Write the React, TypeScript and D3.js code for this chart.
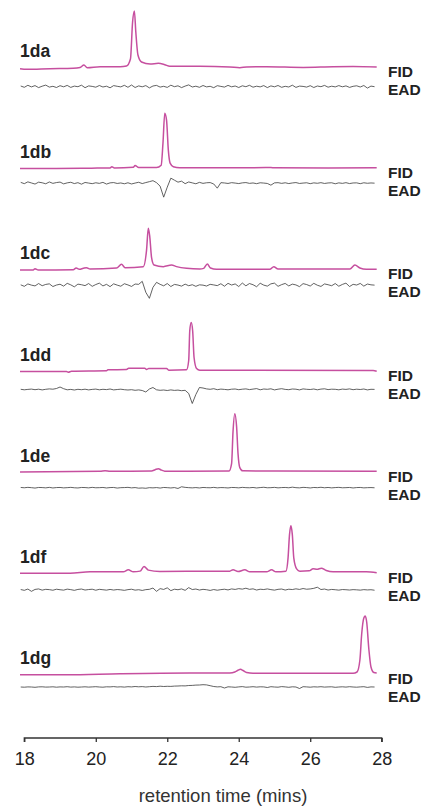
import React, { useEffect, useRef } from 'react';
import * as d3 from 'd3';

// compound names, one panel each
const compounds = ['1da', '1db', '1dc', '1dd', '1de', '1df', '1dg'];

// FID traces: [retention time (min), signal] knots
const fid1da = [[17.88,-1.7],[18.07,-2.3],[18.72,-1.7],[19.37,-1.3],[19.56,-0.5],[19.67,2.0],[19.76,-0.7],[20.12,0.3],[20.68,0.3],[20.86,1.0],[20.97,8],[21.03,45],[21.08,56],[21.12,35],[21.18,12],[21.28,5],[21.52,3],[21.75,3.7],[21.93,2.3],[22.07,0.7],[22.91,0.7],[23.75,0],[24.03,-0.7],[24.22,0],[24.78,0.3],[25.8,-0.4],[26.64,0.3],[27.2,0.5],[27.86,0]];
const fid1db = [[17.88,-0.3],[18.9,-0.3],[19.88,0],[20.4,0.2],[20.45,1.3],[20.52,0.2],[21.05,0.8],[21.1,2.7],[21.2,0.7],[21.7,0.7],[21.83,3],[21.88,25],[21.93,55],[21.98,48],[22.03,18],[22.08,5],[22.17,1.5],[22.35,0.5],[23.5,0.3],[24.9,0.6],[25.0,0.3],[26.5,0.2],[27.86,0.3]];
const fid1dc = [[17.88,-0.7],[18.25,-0.7],[18.3,0.7],[18.39,-0.7],[19.37,-0.3],[19.45,1.3],[19.54,0],[19.65,1],[19.74,1.7],[19.84,0.3],[20.58,1.3],[20.72,5],[20.82,1.7],[21.33,2.7],[21.42,19],[21.47,41],[21.51,33],[21.56,12],[21.63,4.3],[21.89,2.7],[22.12,4.3],[22.26,2.7],[22.54,1],[22.91,0.3],[23.02,1],[23.12,5.3],[23.21,1.3],[23.38,0],[24.87,0],[24.98,2.7],[25.1,0.3],[27.11,0.3],[27.25,4.3],[27.39,1.3],[27.57,0],[27.86,0]];
const fid1dd = [[17.88,-1],[19.18,-1],[19.23,-1.7],[19.32,-0.7],[20.3,-0.3],[20.34,0.7],[20.86,1],[20.92,2.3],[21.37,2.3],[21.42,1],[21.48,2],[21.98,2],[22.04,0.3],[22.54,0.7],[22.6,10],[22.63,40],[22.67,48],[22.71,40],[22.75,13],[22.82,2],[22.91,0.3],[27.76,0],[27.86,-0.7]];
const fid1de = [[17.88,-0.3],[20.12,0.3],[20.26,1],[20.4,0.3],[21.56,0.7],[21.66,2],[21.75,3],[21.84,1.5],[21.93,0.5],[22.17,0.3],[23.73,0.7],[23.8,8],[23.84,40],[23.89,58],[23.94,45],[23.98,18],[24.03,4],[24.11,0.8],[25.06,0.6],[27.86,0.3]];
const fid1df = [[17.88,-0.3],[19.28,-0.3],[19.84,1],[20.77,1],[20.91,3],[21.05,1],[21.24,1.7],[21.35,6.3],[21.47,2.7],[21.79,1.3],[23.29,1.7],[23.75,1.7],[23.84,3],[23.98,1.3],[24.17,3],[24.31,1],[24.78,1],[24.92,3],[25.04,1],[25.32,1.7],[25.38,15],[25.42,38],[25.46,47],[25.5,38],[25.54,15],[25.62,4],[25.71,1.7],[25.97,2],[26.08,4],[26.19,3.5],[26.31,4.7],[26.45,2.3],[26.64,1],[27.57,1],[27.86,0]];
const fid1dg = [[17.88,-0.7],[19.18,-0.7],[20.68,0.3],[22.63,1],[23.75,1],[23.89,2],[23.98,3.7],[24.05,4.7],[24.12,3.5],[24.22,1.5],[24.4,0.7],[27.2,0.7],[27.31,2],[27.39,14],[27.44,40],[27.5,56],[27.54,58],[27.58,52],[27.64,25],[27.7,7],[27.78,1.5],[27.86,1]];

// EAD traces: one value every 0.1 min starting at 17.9 min
const eadStart = 17.9;
const eadStep = 0.1;
const ead1da = [0.5,-0.8,1.2,-0.4,0.9,-1.1,0.3,1.4,-0.6,0.2,-1.0,0.8,-0.3,1.1,-0.9,0.4,-0.2,1.3,-1.2,0.6,0.1,-0.7,1.0,-0.5,0.3,-1.3,0.9,0.2,-0.4,1.2,-0.8,1.5,-1.0,0.6,-0.3,0.9,-1.4,0.5,1.1,-0.6,0.2,-0.9,1.3,-0.2,0.7,-1.1,0.4,1.6,-0.5,0.3,-0.8,1.0,-0.4,0.2,-1.2,0.8,0.1,-0.6,1.1,-0.3,0.5,-1.0,0.7,-0.2,1.2,-0.7,0.3,-0.4,0.9,-1.1,0.6,-0.3,1.0,-0.8,0.2,-0.5,1.3,-0.9,0.4,0.1,-0.6,0.8,-1.0,0.5,-0.2,1.1,-0.7,0.3,-0.4,0.9,-0.3,0.6,-0.9,0.2,0.7,-0.5,1.0,-1.6,0.4,-0.2];
const ead1db = [0.8,-0.5,1.3,0.2,-0.9,1.0,0.4,-0.6,1.2,-0.2,0.6,1.1,-0.7,0.3,0.9,-0.4,0.5,-1.0,0.7,0.1,-0.5,0.4,-0.2,0.8,-0.9,0.3,0.6,-0.3,0.2,-0.6,0.4,-0.8,0.1,0.9,-0.4,0.6,1.5,2.5,0.5,-3.0,-14,-4,5,3,1,2,-0.5,1.2,0.3,-0.6,0.8,-0.2,0.4,0.6,-0.8,-5,0.5,0.2,-0.3,0.5,0.1,-0.4,0.3,0.6,-0.2,0.2,-0.5,0.4,0.1,-0.3,-2.0,0.3,0.5,-0.2,0.4,-0.4,0.2,0.6,-0.3,0.1,0.4,-0.5,0.3,-0.1,0.5,-0.3,0.2,0.4,-0.6,0.3,-0.2,0.5,-0.4,0.2,0.3,-0.5,0.4,-0.1,0.2,0.0];
const ead1dc = [0.5,-1.0,1.4,0.2,-0.6,1.8,-0.4,0.9,1.5,-1.2,0.3,1.1,-0.8,2.0,0.5,-1.5,1.2,0.6,-0.3,1.8,-1.0,0.8,2.2,-0.6,1.0,-1.3,1.5,0.2,-0.9,1.6,0.4,-1.1,1.3,1.0,4.0,-7,-13,-2,3,1,-0.5,1.8,-1.2,0.9,0.3,-0.8,1.2,-0.4,0.6,-1.0,0.5,0.2,-0.7,1.0,0.4,-0.3,1.6,-0.9,2.0,0.3,1.4,-1.2,2.3,-0.5,1.8,0.6,-1.4,2.1,0.2,-0.8,1.5,2.2,-1.0,0.7,1.9,-0.6,1.2,0.4,-1.3,1.7,0.8,-0.7,2.0,0.1,-1.1,1.4,0.6,-0.4,1.8,-0.9,0.9,2.2,-1.2,1.0,0.3,1.9,-0.8,1.3,0.5,0.2];
const ead1dd = [0.2,-0.3,0.1,0.4,-0.2,0.3,-0.4,0.2,0.6,0.3,1.0,2.5,0.8,-0.3,0.1,-0.5,0.2,-0.2,0.3,-0.4,0.1,0.4,-0.3,0.2,-0.1,0.5,-0.4,0.0,0.3,-0.2,-0.5,-0.2,-0.8,-0.4,-1.0,-2.5,0.5,2.0,-0.3,-0.8,-0.5,-1.0,-0.4,-0.9,-0.6,-1.2,-0.8,-4,-14,-5,2.0,1.5,0.6,0.2,0.8,-0.2,0.4,0.1,-0.3,0.3,0.5,-0.2,0.3,0.6,-0.1,0.4,0.9,-0.3,0.5,0.2,0.7,-0.4,0.3,0.8,0.1,-0.2,0.5,0.3,-0.4,0.6,0.2,0.0,0.5,-0.3,0.4,0.7,-0.1,0.3,0.2,-0.3,0.4,0.1,0.6,-0.2,0.3,0.0,0.5,-0.4,0.2,0.1];
const ead1de = [0.2,-0.1,0.3,0.0,-0.4,0.2,0.1,-0.2,0.3,-0.3,0.1,0.2,-0.2,0.0,0.3,-0.1,-0.3,0.2,0.1,-0.2,0.3,-0.1,0.0,0.2,-0.3,0.1,0.2,-0.4,0.0,0.1,0.3,-0.2,0.1,-0.5,-0.3,-0.6,0.0,-0.2,0.1,-0.4,0.2,0.0,-0.3,0.1,-0.8,0.9,0.3,0.0,-0.2,0.1,-0.3,0.2,0.0,-0.1,0.3,-0.2,0.1,0.0,-0.3,0.2,0.1,-0.2,0.3,0.0,-0.1,0.2,-0.3,0.1,0.4,-0.1,0.0,0.3,-0.2,0.1,0.2,-0.1,0.5,0.0,-0.2,0.3,0.1,-0.3,0.2,0.0,0.4,-0.1,0.2,-0.2,0.1,0.3,-0.1,0.0,0.2,-0.3,0.1,0.2,-0.2,0.0,0.1,-0.1];
const ead1df = [0.3,-0.5,0.8,-1.5,0.4,0.9,-0.3,0.5,0.2,-0.4,0.6,0.1,-0.3,0.7,0.2,-0.5,0.4,0.8,-0.2,0.3,0.6,-0.4,0.5,0.1,-0.3,0.4,-0.2,0.3,0.0,-0.5,0.2,0.6,-0.3,0.1,-0.6,0.2,0.5,1.8,-1.5,1.2,0.4,2.0,-0.8,0.6,0.1,0.9,-0.5,2.2,0.3,0.8,-0.2,0.5,0.1,-0.6,0.3,-0.4,0.2,0.6,-0.1,0.9,0.4,1.2,0.7,1.6,0.5,1.0,-0.2,0.6,0.3,0.9,0.2,-0.3,0.5,0.8,-0.2,0.6,0.3,1.0,0.4,1.3,0.6,0.9,1.5,2.6,0.3,0.8,-0.2,0.4,0.1,-0.3,0.3,0.1,-0.2,0.2,0.0,-0.3,0.2,-0.1,0.1,-0.4];
const ead1dg = [0.0,-0.2,0.1,0.0,-0.3,0.1,0.2,-0.1,0.0,0.2,-0.2,0.1,0.0,0.3,-0.1,0.1,-0.2,0.0,0.2,-0.1,0.1,0.3,0.0,-0.2,0.2,0.1,0.4,0.0,0.2,-0.1,0.3,0.1,0.5,0.2,0.4,0.0,0.3,0.6,0.4,0.8,0.5,0.7,0.6,0.9,1.0,1.2,1.1,1.5,1.6,1.9,2.0,2.3,2.1,1.3,0.5,0.1,0.3,-1.0,0.2,0.0,-0.3,0.1,0.4,-0.2,0.0,0.3,-0.1,0.2,0.1,-0.5,0.3,0.0,-0.2,0.4,0.1,-0.3,0.2,0.0,-1.5,0.3,0.1,-0.2,0.2,0.0,0.3,-0.1,0.1,0.2,-0.3,0.0,0.2,-0.1,0.3,0.0,-0.2,0.1,0.3,-0.4,0.1,0.0];

const fidTraces = [fid1da, fid1db, fid1dc, fid1dd, fid1de, fid1df, fid1dg];
const eadTraces = [ead1da, ead1db, ead1dc, ead1dd, ead1de, ead1df, ead1dg];

// x axis ticks
const xTicks = [18, 20, 22, 24, 26, 28];

// gap between FID and EAD baselines for each panel (px)
const eadGap = [19.5, 15, 16, 19, 16, 17, 13];

const App = () => {
  const svgRef = useRef();

  useEffect(() => {
    const width = 428;
    const height = 811;
    const font = "Arial, 'Liberation Sans', sans-serif";
    const fidColor = '#c64f9f';

    const svg = d3.select(svgRef.current);
    svg.selectAll('*').remove();

    const x = d3.scaleLinear().domain([18, 28]).range([24.3, 381.7]);

    // baseline of each FID trace
    const panelY = d3.scalePoint().domain(compounds).range([67, 674]);

    compounds.forEach((name, i) => {
      const base = panelY(name);
      const yFid = d3.scaleLinear().domain([0, 60]).range([base, base - 60]);
      const yEad = d3.scaleLinear().domain([0, 10]).range([base + eadGap[i], base + eadGap[i] - 10]);

      const g = svg.append('g');

      const fidLine = d3
        .line()
        .x((d) => x(d[0]))
        .y((d) => yFid(d[1]))
        .curve(d3.curveMonotoneX);

      const eadLine = d3
        .line()
        .x((d, j) => x(eadStart + j * eadStep))
        .y((d) => yEad(d))
        .curve(d3.curveLinear);

      g.append('path')
        .attr('d', eadLine(eadTraces[i]))
        .attr('fill', 'none')
        .attr('stroke', '#3a3a3a')
        .attr('stroke-width', 0.8);

      g.append('path')
        .attr('d', fidLine(fidTraces[i]))
        .attr('fill', 'none')
        .attr('stroke', fidColor)
        .attr('stroke-width', 1.5)
        .attr('stroke-linejoin', 'round');

      g.append('text')
        .attr('x', 20)
        .attr('y', base - 10)
        .attr('font-family', font)
        .attr('font-size', 17.5)
        .attr('font-weight', 'bold')
        .attr('fill', '#222')
        .text(name);

      // FID / EAD tags at the right end of the traces
      g.append('text')
        .attr('x', 388)
        .attr('y', base + 10)
        .attr('font-family', font)
        .attr('font-size', 15.5)
        .attr('font-weight', 'bold')
        .attr('fill', '#222')
        .text('FID');

      g.append('text')
        .attr('x', 388)
        .attr('y', base + 28)
        .attr('font-family', font)
        .attr('font-size', 15.5)
        .attr('font-weight', 'bold')
        .attr('fill', '#222')
        .text('EAD');
    });

    // x axis
    const axis = svg
      .append('g')
      .attr('transform', 'translate(0, 738)')
      .call(d3.axisBottom(x).tickValues(xTicks).tickSize(4).tickPadding(10).tickFormat(d3.format('d')));

    axis.select('.domain').attr('stroke', '#333').attr('stroke-width', 1.3).attr('d', `M${x(18)},4V0H${x(28)}V4`);
    axis.selectAll('.tick line').attr('stroke', '#333').attr('stroke-width', 1.3);
    axis
      .selectAll('.tick text')
      .attr('font-family', font)
      .attr('font-size', 18)
      .attr('fill', '#222');

    svg
      .append('text')
      .attr('x', 223)
      .attr('y', 802)
      .attr('text-anchor', 'middle')
      .attr('font-family', font)
      .attr('font-size', 18.5)
      .attr('fill', '#333')
      .text('retention time (mins)');

    svg.attr('width', width).attr('height', height);
  }, []);

  return (
    <svg
      ref={svgRef}
      width={428}
      height={811}
      style={{ position: 'absolute', left: 0, top: 0, background: '#fff' }}
    ></svg>
  );
};

export default App;
